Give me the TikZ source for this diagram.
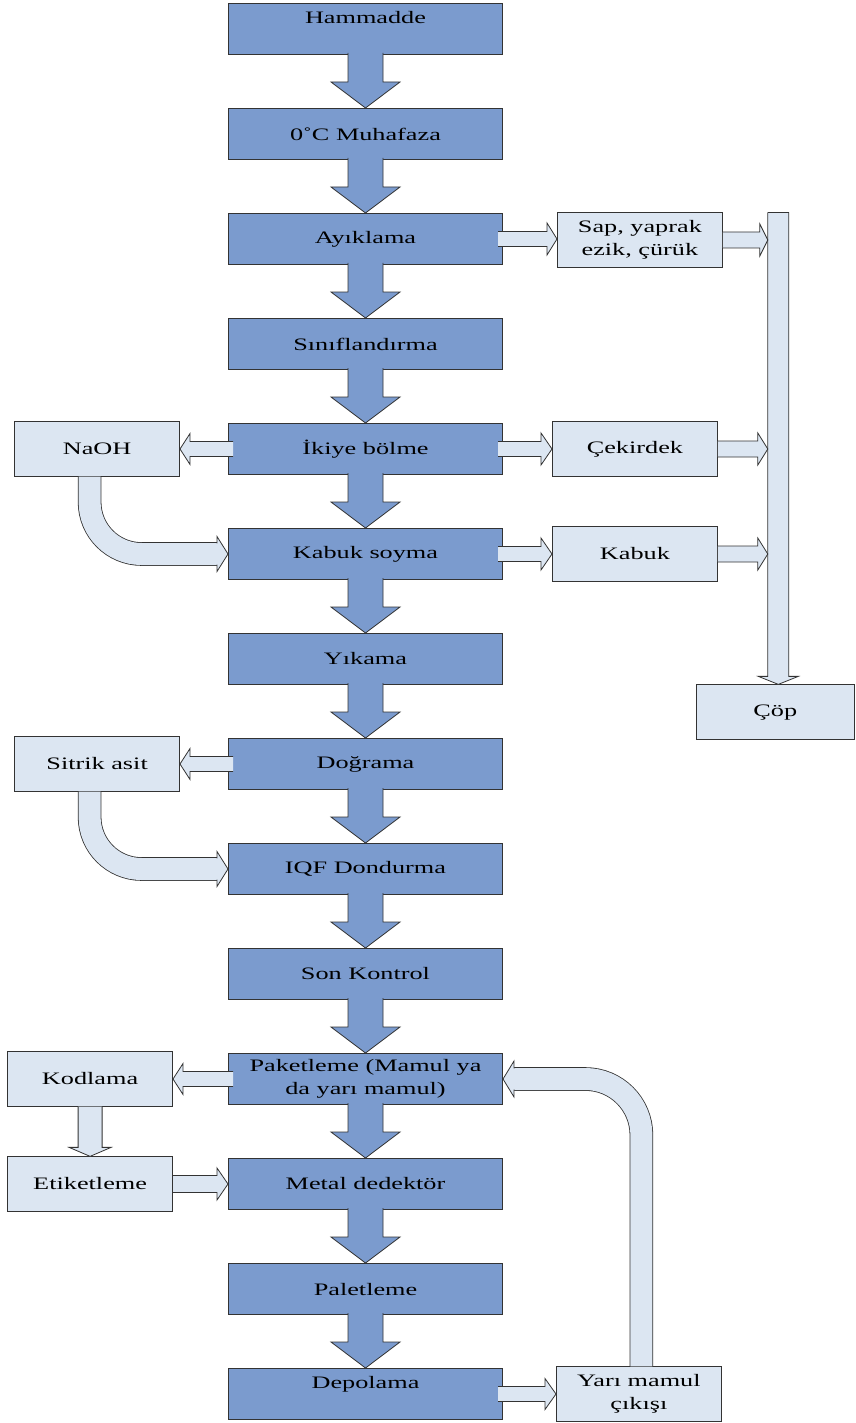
\documentclass[tikz,border=0pt]{standalone}
\usepackage{fontspec}
\setmainfont{Liberation Serif}[FakeStretch=1.5]
\usetikzlibrary{positioning,calc}
\definecolor{procblue}{RGB}{123,155,206}
\definecolor{auxblue}{RGB}{220,230,242}
\tikzset{
	node distance = 53pt, % gap between two steps of the main line
	proc/.style = {rectangle, draw=black!80, fill=procblue, line width=0.8pt, minimum width=274.2pt, minimum height=51.2pt, inner sep=0pt, align=center},
	proctop/.style = {proc, text height=20pt, text depth=31.2pt}, % text sits at the top of the box
	aux/.style = {rectangle, draw=black!80, fill=auxblue, line width=0.8pt, minimum width=165pt, minimum height=54.5pt, inner sep=0pt, align=center},
	procarrow/.style = {draw=black!80, fill=procblue, line width=0.8pt},
	auxarrow/.style = {draw=black!80, fill=auxblue, line width=0.8pt},
	bentarrow/.style = {draw=black!80, line width=0.8pt, double=auxblue, double distance=22pt, rounded corners=52pt} % shaft of the bent arrows
}
% block arrows: style, from, to, half shaft, half head, head length
\newcommand{\dblock}[6]{\filldraw[#1] let \p1=(#2), \p2=(#3) in
	(\x1-#4,\y1) -- (\x1-#4,\y2+#6) -- (\x1-#5,\y2+#6) -- (\x1,\y2) -- (\x1+#5,\y2+#6) -- (\x1+#4,\y2+#6) -- (\x1+#4,\y1);}
\newcommand{\rblock}[6]{\filldraw[#1] let \p1=(#2), \p2=(#3) in
	(\x1,\y1+#4) -- (\x2-#6,\y1+#4) -- (\x2-#6,\y1+#5) -- (\x2,\y1) -- (\x2-#6,\y1-#5) -- (\x2-#6,\y1-#4) -- (\x1,\y1-#4);}
\newcommand{\lblock}[6]{\filldraw[#1] let \p1=(#2), \p2=(#3) in
	(\x1,\y1+#4) -- (\x2+#6,\y1+#4) -- (\x2+#6,\y1+#5) -- (\x2,\y1) -- (\x2+#6,\y1-#5) -- (\x2+#6,\y1-#4) -- (\x1,\y1-#4);}

\begin{document}
\begin{tikzpicture}[font=\fontsize{17.5pt}{23pt}\selectfont]
	\useasboundingbox (0,0) rectangle (855pt,-1423pt);
	% main line
	\node[proctop] (1) at (365.5pt,-29pt) {Hammadde};
	\node[proc, below=of 1] (2) {0˚C Muhafaza};
	\node[proc, below=of 2] (3) {Ayıklama};
	\node[proc, below=of 3] (4) {Sınıflandırma};
	\node[proc, below=of 4] (5) {İkiye bölme};
	\node[proc, below=of 5] (6) {Kabuk soyma};
	\node[proc, below=of 6] (7) {Yıkama};
	\node[proc, below=of 7] (8) {Doğrama};
	\node[proc, below=of 8] (9) {IQF Dondurma};
	\node[proc, below=of 9] (10) {Son Kontrol};
	\node[proc, below=of 10] (11) {Paketleme (Mamul ya\\da yarı mamul)};
	\node[proc, below=of 11] (12) {Metal dedektör};
	\node[proc, below=of 12] (13) {Paletleme};
	\node[proctop, below=of 13] (14) {Depolama};
	% side boxes
	\node[aux, right=54pt of 3, yshift=-1pt] (sap) {Sap, yaprak\\ezik, çürük};
	\node[aux, right=49pt of 5] (cek) {Çekirdek};
	\node[aux, right=49pt of 6] (kab) {Kabuk};
	\node[aux, left=48pt of 5] (naoh) {NaOH};
	\node[aux, left=48pt of 8] (sit) {Sitrik asit};
	\node[aux, left=55pt of 11] (kod) {Kodlama};
	\node[aux, left=55pt of 12] (etik) {Etiketleme};
	\node[aux, right=53pt of 14] (yari) {Yarı mamul\\çıkışı};
	\coordinate[right=55.5pt of sap.north east] (bin);
	\node[aux, minimum width=158pt, minimum height=55pt, below=472pt of bin, xshift=-3pt] (cop) {Çöp};
	% arrows
	\foreach \i [evaluate=\i as \j using int(\i+1)] in {1,...,13}
		\dblock{procarrow}{$(\i.south)+(0,2pt)$}{\j.north}{17.5pt}{34.5pt}{26pt};
	\dblock{auxarrow}{bin}{cop.north}{10.5pt}{20pt}{8pt}
	\draw[black!80, line width=0.8pt] ($(bin)+(-10.5pt,0)$) -- ($(bin)+(10.5pt,0)$);
	\rblock{auxarrow}{$(3.east)+(-5pt,0)$}{sap.west}{7.5pt}{16pt}{10pt}
	\rblock{auxarrow}{$(5.east)+(-5pt,0)$}{cek.west}{7.5pt}{16pt}{11pt}
	\rblock{auxarrow}{$(6.east)+(-5pt,0)$}{kab.west}{7.5pt}{16pt}{11pt}
	\rblock{auxarrow}{sap.east}{$(bin)+(-10.5pt,0)$}{8pt}{16pt}{8pt}
	\rblock{auxarrow}{cek.east}{$(bin)+(-10.5pt,0)$}{8pt}{16pt}{10pt}
	\rblock{auxarrow}{kab.east}{$(bin)+(-10.5pt,0)$}{8pt}{16pt}{10pt}
	\lblock{auxarrow}{$(5.west)+(5pt,0)$}{naoh.east}{7.5pt}{15.5pt}{10pt}
	\lblock{auxarrow}{$(8.west)+(5pt,0)$}{sit.east}{7.5pt}{15.5pt}{10pt}
	\lblock{auxarrow}{$(11.west)+(5pt,0)$}{kod.east}{7.5pt}{15.5pt}{10pt}
	\rblock{auxarrow}{etik.east}{12.west}{8.5pt}{16pt}{11pt}
	\rblock{auxarrow}{$(14.east)+(-5pt,0)$}{yari.west}{7.5pt}{15.5pt}{11pt}
	\dblock{auxarrow}{kod.south}{etik.north}{12pt}{21pt}{9pt}
	% bent arrows
	\draw[bentarrow] ($(naoh.south)+(-7.5pt,0)$) |- ($(6.west)+(-11pt,0)$);
	\rblock{auxarrow}{$(6.west)+(-11.5pt,0)$}{6.west}{11pt}{17.5pt}{11pt}
	\draw[bentarrow] ($(sit.south)+(-7.5pt,0)$) |- ($(9.west)+(-11pt,0)$);
	\rblock{auxarrow}{$(9.west)+(-11.5pt,0)$}{9.west}{11pt}{17.5pt}{11pt}
	\draw[bentarrow, rounded corners=56pt] ($(yari.north)+(2.5pt,0)$) |- ($(11.east)+(11pt,0)$);
	\lblock{auxarrow}{$(11.east)+(11.5pt,0)$}{11.east}{11pt}{18pt}{11pt}
\end{tikzpicture}
\end{document}
